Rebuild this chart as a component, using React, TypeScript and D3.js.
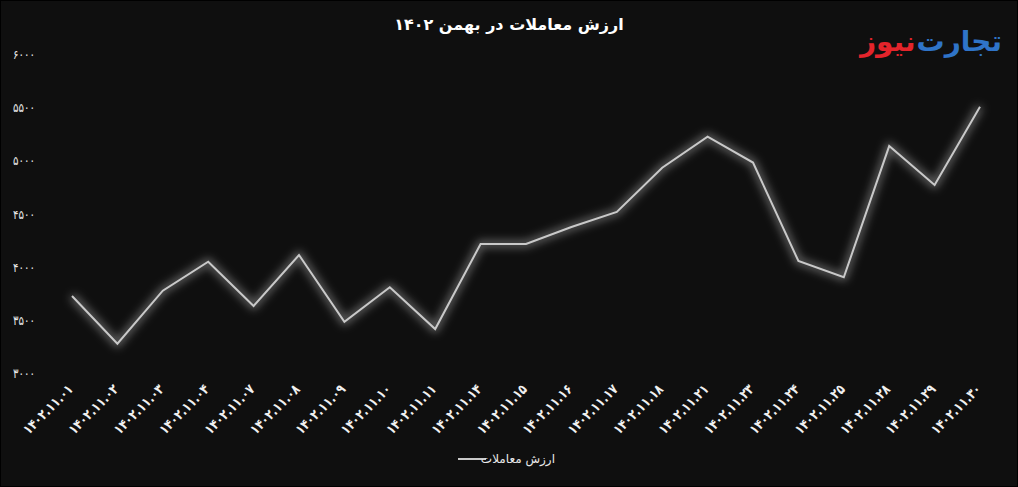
import React, { useLayoutEffect, useRef, useState } from "react";
import * as d3 from "d3";

const categories = [
  "۱۴۰۲.۱۱.۰۱", "۱۴۰۲.۱۱.۰۲", "۱۴۰۲.۱۱.۰۳", "۱۴۰۲.۱۱.۰۴", "۱۴۰۲.۱۱.۰۷",
  "۱۴۰۲.۱۱.۰۸", "۱۴۰۲.۱۱.۰۹", "۱۴۰۲.۱۱.۱۰", "۱۴۰۲.۱۱.۱۱", "۱۴۰۲.۱۱.۱۴",
  "۱۴۰۲.۱۱.۱۵", "۱۴۰۲.۱۱.۱۶", "۱۴۰۲.۱۱.۱۷", "۱۴۰۲.۱۱.۱۸", "۱۴۰۲.۱۱.۲۱",
  "۱۴۰۲.۱۱.۲۳", "۱۴۰۲.۱۱.۲۴", "۱۴۰۲.۱۱.۲۵", "۱۴۰۲.۱۱.۲۸", "۱۴۰۲.۱۱.۲۹",
  "۱۴۰۲.۱۱.۳۰",
];
const values = [
  3729, 3280, 3779, 4051, 3635, 4114, 3487, 3811, 3418, 4218,
  4218, 4378, 4519, 4935, 5227, 4984, 4058, 3905, 5139, 4773, 5509,
];
const yTicks = [3000, 3500, 4000, 4500, 5000, 5500, 6000];
const seriesName = "ارزش معاملات";
const title = "ارزش معاملات در بهمن ۱۴۰۲";
const logoBlue = "تجارت";
const logoRed = "نیوز";

const toFa = (n: number) => String(n).replace(/\d/g, (d) => "۰۱۲۳۴۵۶۷۸۹"[+d]);

const W = 1018, H = 487;
const FONT = "'DejaVu Sans', sans-serif";

export default function App() {
  const x = d3.scalePoint<string>().domain(categories).range([72, 980]);
  const y = d3.scaleLinear().domain([3000, 6000]).range([373.5, 54.5]);
  const line = d3.line<number>()
    .x((_, i) => x(categories[i]) as number)
    .y((d) => y(d));
  const path = line(values) || "";

  const blueRef = useRef<SVGTextElement>(null);
  const [blueW, setBlueW] = useState(70);
  useLayoutEffect(() => {
    if (blueRef.current) setBlueW(blueRef.current.getComputedTextLength());
  }, []);

  return (
    <svg width={W} height={H} style={{ position: "absolute", left: 0, top: 0 }}
      fontFamily={FONT}>
      <defs>
        <filter id="glow" x="-10%" y="-20%" width="120%" height="140%">
          <feGaussianBlur stdDeviation="4" />
        </filter>
      </defs>
      <rect x={0} y={0} width={W} height={H} fill="#0f0f0f" stroke="#000" strokeWidth={2} />
      <text x={509} y={30} textAnchor="middle" fill="#ffffff" fontSize={16}
        fontWeight="bold" direction="rtl">{title}</text>

      {/* logo */}
      <text ref={blueRef} x={1002} y={51} textAnchor="end" fontSize={28} fill="#2f74c8"
        fontWeight="bold">{logoBlue}</text>
      <text x={1002 - blueW - 1} y={51} textAnchor="end" fontSize={28} fill="#e3242b"
        fontWeight="bold">{logoRed}</text>

      {yTicks.map((t) => (
        <text key={t} x={35} y={y(t)} dy="0.35em" textAnchor="end" fill="#e8e8e8"
          fontSize={13} textLength={22} lengthAdjust="spacingAndGlyphs">{toFa(t)}</text>
      ))}

      <path d={path} fill="none" stroke="#ffffff" strokeOpacity={0.35}
        strokeWidth={7} filter="url(#glow)" strokeLinejoin="round" />
      <path d={path} fill="none" stroke="#c9c9c9" strokeWidth={2}
        strokeLinejoin="miter" />

      {categories.map((c) => {
        const cx = x(c) as number;
        return (
          <text key={c} transform={`translate(${cx + 2},${390}) rotate(-45)`}
            textAnchor="end" fill="#f0f0f0" fontSize={14} fontWeight="bold"
            textLength={64} lengthAdjust="spacingAndGlyphs">{c}</text>
        );
      })}

      <line x1={458} x2={486} y1={459} y2={459} stroke="#c9c9c9" strokeWidth={2} />
      <text x={555} y={459} dy="0.35em" textAnchor="start" direction="rtl"
        fill="#e8e8e8" fontSize={12}>{seriesName}</text>
    </svg>
  );
}
